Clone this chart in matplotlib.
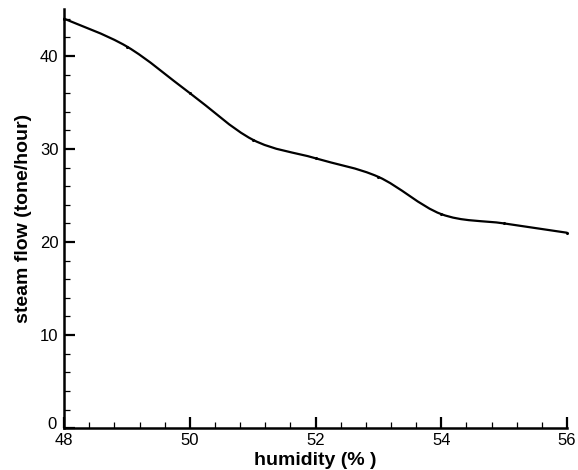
import matplotlib
matplotlib.use("Agg")
import matplotlib.pyplot as plt
from matplotlib.path import Path
from matplotlib.patches import PathPatch
from matplotlib.ticker import MultipleLocator, FuncFormatter
import numpy as np

plt.rcParams['font.family'] = ['Liberation Sans', 'DejaVu Sans']

humidity = [48, 49, 50, 51, 52, 53, 54, 55, 56]
steam_flow = [44, 41, 36, 31, 29, 27, 23, 22, 21]

fig = plt.figure(figsize=(5.78, 4.70), dpi=100)
ax = fig.add_axes([0.111, 0.089, 0.870, 0.891])

# smooth curve through the data points (Catmull-Rom rendered as cubic Bezier)
x = np.asarray(humidity, float)
y = np.asarray(steam_flow, float)
verts = [(x[0], y[0])]
codes = [Path.MOVETO]
n = len(x)
for i in range(n - 1):
    p0 = (x[max(i - 1, 0)], y[max(i - 1, 0)])
    p1 = (x[i], y[i])
    p2 = (x[i + 1], y[i + 1])
    p3 = (x[min(i + 2, n - 1)], y[min(i + 2, n - 1)])
    c1 = (p1[0] + (p2[0] - p0[0]) / 6, p1[1] + (p2[1] - p0[1]) / 6)
    c2 = (p2[0] - (p3[0] - p1[0]) / 6, p2[1] - (p3[1] - p1[1]) / 6)
    verts += [c1, c2, p2]
    codes += [Path.CURVE4] * 3
ax.add_patch(PathPatch(Path(verts, codes), facecolor='none', edgecolor='black',
                       lw=1.6, clip_on=False, capstyle='round', joinstyle='round'))
ax.plot(humidity, steam_flow, linestyle='none', marker='o', ms=1.2, color='black',
        clip_on=False)

ax.set_xlim(48, 56)
ax.set_ylim(0, 45)
ax.xaxis.set_major_locator(MultipleLocator(2))
ax.xaxis.set_minor_locator(MultipleLocator(0.4))
ax.yaxis.set_major_locator(MultipleLocator(10))
ax.yaxis.set_minor_locator(MultipleLocator(2))
# the "0" label is drawn separately, nudged up so it does not collide with "48"
ax.yaxis.set_major_formatter(FuncFormatter(lambda v, p: '' if v == 0 else f'{v:g}'))

for s in ['top', 'right']:
    ax.spines[s].set_visible(False)
for s in ['left', 'bottom']:
    ax.spines[s].set_linewidth(1.8)

ax.tick_params(which='major', direction='in', length=8, width=1.6, labelsize=12,
               pad=3.5, colors='black')
ax.tick_params(axis='y', which='major', pad=4)
ax.tick_params(which='minor', direction='in', length=4.5, width=0.9)

ax.annotate('0', xy=(0, 0), xycoords=('axes fraction', 'data'),
            xytext=(-5.5, 2.5), textcoords='offset points',
            ha='right', va='center', fontsize=12, color='black')

ax.set_xlabel('humidity (% )', fontsize=14, fontweight='bold', labelpad=3)
ax.set_ylabel('steam flow (tone/hour)', fontsize=14, fontweight='bold', labelpad=6)

fig.savefig('out.png', dpi=100)
